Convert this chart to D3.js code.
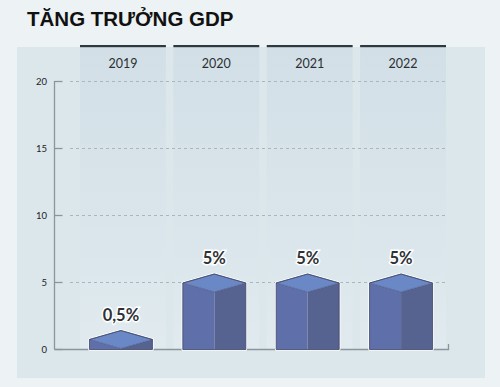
<!DOCTYPE html>
<html>
<head>
<meta charset="utf-8">
<script src="https://cdn.jsdelivr.net/npm/d3@7"></script>
<style>
  body { margin: 0; background: #edf2f4; }
  svg { display: block; }
</style>
</head>
<body>
<svg id="chart" width="500" height="387"></svg>
<script>
// chart data
const years = ['2019', '2020', '2021', '2022'];
const growth = [0.5, 5, 5, 5];
const labels = ['0,5%', '5%', '5%', '5%'];
const yTicks = [0, 5, 10, 15, 20];

const svg = d3.select('#chart');

// gradient for the column bands
const defs = svg.append('defs');
const grad = defs.append('linearGradient').attr('id', 'band').attr('x1', 0).attr('x2', 0).attr('y1', 0).attr('y2', 1);
grad.append('stop').attr('offset', 0).attr('stop-color', '#d2dfe6');
grad.append('stop').attr('offset', 1).attr('stop-color', '#e0eaef');

// title
svg.append('text')
  .attr('x', 27).attr('y', 26)
  .style('font-family', 'Liberation Sans, Arial, sans-serif')
  .style('font-weight', 'bold')
  .style('font-size', '20.5px')
  .attr('fill', '#111')
  .text('TĂNG TRƯỞNG GDP');

// panel
svg.append('rect')
  .attr('x', 17).attr('y', 47).attr('width', 468).attr('height', 331)
  .attr('fill', '#dce7ec');

const x = d3.scaleBand().domain(years).range([80, 446]).paddingInner(0.08).paddingOuter(0);
const y = d3.scaleLinear().domain([0, 20]).range([349, 81]);

// column bands, dark top rule, year label
const cols = svg.append('g').selectAll('g').data(years).join('g');
cols.append('rect')
  .attr('x', d => x(d)).attr('y', 47)
  .attr('width', x.bandwidth()).attr('height', 303)
  .attr('fill', 'url(#band)');
cols.append('rect')
  .attr('x', d => x(d)).attr('y', 45)
  .attr('width', x.bandwidth()).attr('height', 2.2)
  .attr('fill', '#2f3940');
cols.append('text')
  .attr('x', d => x(d) + x.bandwidth() / 2).attr('y', 68)
  .attr('text-anchor', 'middle')
  .style('font-family', 'Lato, Open Sans, sans-serif')
  .style('font-size', '12.5px')
  .attr('fill', '#2b2f33')
  .text(d => d);

// gridlines
svg.append('g').selectAll('line').data(yTicks.filter(t => t > 0)).join('line')
  .attr('x1', 70).attr('x2', 448)
  .attr('y1', d => y(d) + 0.5).attr('y2', d => y(d) + 0.5)
  .attr('stroke', '#a9b6bd').attr('stroke-width', 1)
  .attr('stroke-dasharray', '3,3');

// y axis
const yAxis = svg.append('g')
  .attr('transform', 'translate(54.5,0)')
  .call(d3.axisRight(y).tickValues(yTicks).tickSize(8).tickFormat(''));
yAxis.select('.domain').remove();
yAxis.selectAll('.tick line').attr('stroke', '#8a969c').attr('stroke-width', 1.3);
svg.append('line')
  .attr('x1', 54.5).attr('x2', 54.5).attr('y1', y(20)).attr('y2', y(0) + 0.5)
  .attr('stroke', '#8a969c').attr('stroke-width', 1.3);
svg.append('g').selectAll('text').data(yTicks).join('text')
  .attr('x', 47).attr('y', d => y(d) + 3.5)
  .attr('text-anchor', 'end')
  .style('font-family', 'Lato, Open Sans, sans-serif')
  .style('font-size', '9.5px')
  .attr('fill', '#222')
  .text(d => d);

// baseline with small end tick
svg.append('path')
  .attr('d', `M54.5,${y(0) + 0.5}H448.5V${y(0) - 5}`)
  .attr('fill', 'none')
  .attr('stroke', '#8a969c').attr('stroke-width', 1.3);

// 3D bars
const barW = 63;
const dep = 9;
const bars = svg.append('g').selectAll('g').data(years).join('g');
bars.each(function (yr, i) {
  const g = d3.select(this);
  const cx = x(yr) + x.bandwidth() / 2 - 2;
  const L = cx - barW / 2, R = cx + barW / 2, M = cx;
  const base = y(0) + 0.5;
  const top = Math.min(y(growth[i]) + 1, base - 10);
  const front = Math.min(top + dep, base);
  // white halo
  g.append('path')
    .attr('d', `M${L},${base}V${top}L${M},${top - dep}L${R},${top}V${base}Z`)
    .attr('fill', '#fff').attr('stroke', '#fff').attr('stroke-width', 2.5)
    .attr('stroke-linejoin', 'round');
  // left face
  g.append('path')
    .attr('d', `M${L},${top}L${M},${front}V${base}H${L}Z`)
    .attr('fill', '#5f6fa9');
  // right face
  g.append('path')
    .attr('d', `M${M},${front}L${R},${top}V${base}H${M}Z`)
    .attr('fill', '#56628f');
  // top face (cut at the base line)
  g.append('path')
    .attr('d', `M${L},${top}L${M},${top - dep}L${R},${top}L${M},${front}Z`)
    .attr('fill', '#6a87c6')
    .attr('stroke', '#45507a').attr('stroke-width', 0.6);
  // outline
  g.append('path')
    .attr('d', `M${L},${base}V${top}L${M},${top - dep}L${R},${top}V${base}Z`)
    .attr('fill', 'none').attr('stroke', '#3d4668').attr('stroke-width', 0.8);
  // value label
  g.append('text')
    .attr('x', M).attr('y', top - dep - 10)
    .attr('text-anchor', 'middle')
    .style('font-family', 'Lato, Open Sans, sans-serif')
    .style('font-weight', 'bold')
    .style('font-size', '16.5px')
    .attr('fill', '#2e3236')
    .attr('stroke', '#fff').attr('stroke-width', 3)
    .attr('paint-order', 'stroke')
    .text(labels[i]);
});
</script>
</body>
</html>
